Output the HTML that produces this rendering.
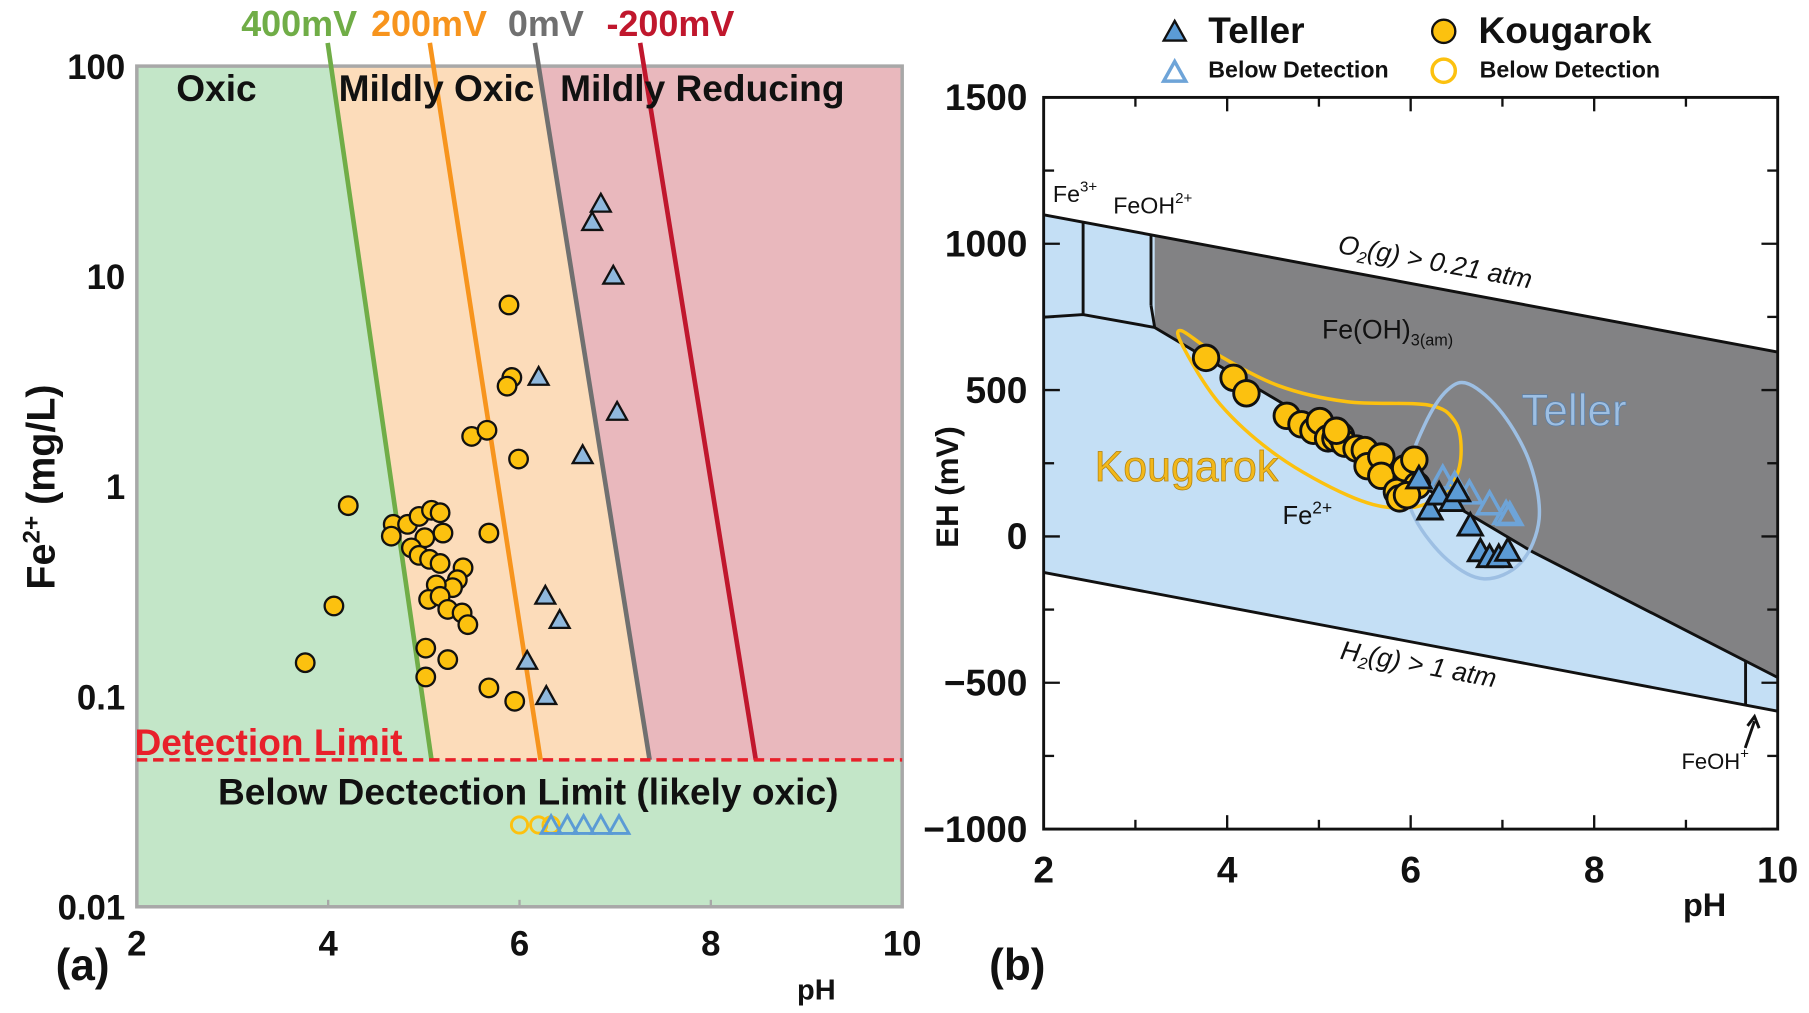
<!DOCTYPE html>
<html><head><meta charset="utf-8"><style>
html,body{margin:0;padding:0;background:#fff;}
svg{display:block;font-family:"Liberation Sans",Arial,sans-serif;}
</style></head><body>
<svg id="fig" width="1809" height="1013" viewBox="0 0 1560 873.6" preserveAspectRatio="none" xmlns="http://www.w3.org/2000/svg">
<g id="pa"></g>
<g id="pb"></g>
</svg>
<script>
// ---------- Panel A data ----------
const aKougarokPH = [3.76,4.06,4.21,5.89,5.92,5.87,5.50,5.66,5.99,5.68,4.68,4.66,4.83,4.95,5.08,5.17,5.20,5.01,4.87,4.95,5.06,5.17,5.41,5.35,5.30,5.13,5.05,5.17,5.25,5.40,5.46,5.02,5.02,5.25,5.68,5.95];
const aKougarokFe = [0.145,0.27,0.81,7.3,3.3,3.0,1.73,1.85,1.35,0.6,0.66,0.58,0.66,0.72,0.77,0.75,0.6,0.57,0.51,0.47,0.45,0.43,0.41,0.36,0.33,0.34,0.29,0.30,0.26,0.25,0.22,0.17,0.124,0.15,0.11,0.095];
const aTellerPH = [6.85,6.76,6.98,6.20,7.02,6.66,6.27,6.42,6.08,6.28];
const aTellerFe = [22,18,10,3.3,2.25,1.4,0.3,0.23,0.147,0.1];
const aBDKougarokPH = [6.0,6.2,6.33];
const aBDTellerPH = [6.33,6.5,6.67,6.85,7.04];
const aBDValue = 0.0245;
const ehLabels = ["400mV","200mV","0mV","-200mV"];
const ehTopPH = [4.03,5.1,6.2,7.3];
const ehBottomPH = [5.08,6.22,7.36,8.47];
const detectionLimit = 0.05;
const aYTicks = [100,10,1,0.1,0.01];
const aYTickLabels = ["100","10","1","0.1","0.01"];
const aXTicks = [2,4,6,8,10];

// ---------- Panel B data ----------
const bKougarokPH = [3.77,4.07,4.21,4.65,4.81,4.94,5.01,5.10,5.18,5.24,5.28,5.41,5.50,5.53,5.68,5.68,5.85,5.88,5.94,6.04,6.07,5.96,5.19];
const bKougarokEh = [610,542,489,412,383,361,394,335,335,344,317,300,295,240,273,207,152,130,233,262,174,141,361];
const bTellerPH = [6.09,6.21,6.31,6.45,6.65,6.76,6.86,6.96,7.06,6.51];
const bTellerEh = [196,90,141,119,35,-53,-73,-73,-51,152];
const bBDTellerPH = [6.35,6.48,6.64,6.86,7.04,7.08];
const bBDTellerEh = [196,174,145,108,75,71];
const o2LinePH = [2,10], o2LineEh = [1099,630];
const h2LinePH = [2,10], h2LineEh = [-123,-597];
const fe2BoundPH = [2,2.43,3.21,7.33,10], fe2BoundEh = [749,758,714,-53,-482];
const kougLoopPH = [3.50,3.87,4.56,5.31,6.19,6.48,6.55,6.48,6.23,5.82,5.31,4.56,3.93,3.52];
const kougLoopEh = [703,626,515,460,449,394,295,196,119,97,141,273,449,648];
const tellLoopPH = [6.64,7.0,7.3,7.4,7.2,6.8,6.4,6.05,5.95,6.15,6.4];
const tellLoopEh = [520,420,250,60,-90,-145,-80,60,200,380,500];
const bYTicks = [1500,1000,500,0,-500,-1000];
const bYTickLabels = ["1500","1000","500","0","\u2212500","\u22121000"];
const bXTicks = [2,4,6,8,10];

const NS="http://www.w3.org/2000/svg";
function mk(parent,tag,attrs,text){const e=document.createElementNS(NS,tag);for(const k in attrs)e.setAttribute(k,attrs[k]);if(text!==undefined)e.textContent=text;parent.appendChild(e);return e;}

// ===== Panel A =====
const A=document.getElementById('pa');
const aL=118,aR=778,aT=57,aB=782;
const ax=p=>aL+(p-2)/8*(aR-aL);
const ay=v=>aT+(2-Math.log10(v))/4*(aB-aT);
const yDet=ay(detectionLimit);
function lineX(i,v){const t=(2-Math.log10(v))/(2-Math.log10(detectionLimit));return ax(ehTopPH[i]+(ehBottomPH[i]-ehTopPH[i])*t);}
let r=mk(A,'rect',{x:aL,y:aT,width:aR-aL,height:aB-aT,fill:'#c3e6c8'});

let p=mk(A,'polygon',{points:`${lineX(0,100)},${aT} ${aR},${aT} ${aR},${yDet} ${lineX(0,detectionLimit)},${yDet}`,fill:'#fcdcba'});

p=mk(A,'polygon',{points:`${lineX(2,100)},${aT} ${aR},${aT} ${aR},${yDet} ${lineX(2,detectionLimit)},${yDet}`,fill:'#e9b8bd'});

r=mk(A,'rect',{x:aL,y:aT,width:aR-aL,height:aB-aT,fill:'none',stroke:'#a8a8a8','stroke-width':3});

const ehColors=['#70ad47','#f7941d','#707070','#c0172d'];
const ehLabelX=[208,320,438,523];
ehLabels.forEach((lab,i)=>{
  const topY=37;const tTop=(2-(2+(aT-topY)/((aB-aT)/4)))/(2-Math.log10(detectionLimit));
  const x0=ax(ehTopPH[i]+(ehBottomPH[i]-ehTopPH[i])*tTop);
  const l=mk(A,'line',{x1:x0,y1:topY,x2:lineX(i,detectionLimit),y2:yDet,stroke:ehColors[i],'stroke-width':4});
  
  const t=mk(A,'text',{x:ehLabelX[i],y:31,fill:ehColors[i],'font-size':31,'font-weight':'bold'},lab);
  
});
let dl=mk(A,'line',{x1:aL,y1:yDet,x2:aR,y2:yDet,stroke:'#e8202a','stroke-width':3,'stroke-dasharray':'9,5'});

[['Oxic',152,'region-label-oxic'],['Mildly Oxic',292,'region-label-mildly-oxic'],['Mildly Reducing',483,'region-label-mildly-reducing']].forEach(a=>{
  const t=mk(A,'text',{x:a[1],y:87,'font-size':32,'font-weight':'bold',fill:'#111'},a[0]);
  
});
let t=mk(A,'text',{x:116,y:651,'font-size':32,'font-weight':'bold',fill:'#e8202a'},'Detection Limit');

t=mk(A,'text',{x:188,y:694,'font-size':32,'font-weight':'bold',fill:'#111'},'Below Dectection Limit (likely oxic)');

aYTicks.forEach((v,i)=>{const e=mk(A,'text',{x:108,y:ay(v)+11,'text-anchor':'end','font-size':30,'font-weight':'bold',fill:'#111'},aYTickLabels[i]);
  });
aXTicks.forEach(v=>{const e=mk(A,'text',{x:ax(v),y:824,'text-anchor':'middle','font-size':30,'font-weight':'bold',fill:'#111'},String(v));
  
  if(v>2&&v<10){const k=mk(A,'line',{x1:ax(v),y1:aB-6,x2:ax(v),y2:aB,stroke:'#a8a8a8','stroke-width':2});}});
t=mk(A,'text',{x:704,y:862,'text-anchor':'middle','font-size':25,'font-weight':'bold',fill:'#111'},'pH');

t=mk(A,'text',{x:48,y:845,'font-size':38,'font-weight':'bold',fill:'#111'},'(a)');

t=mk(A,'text',{transform:'translate(47,420) rotate(-90)','text-anchor':'middle','font-size':34,'font-weight':'bold',fill:'#111'});

mk(t,'tspan',{},'Fe');mk(t,'tspan',{'font-size':21,dy:-13},'2+');mk(t,'tspan',{dy:13},' (mg/L)');
function tri(g,cx,cy,s,fill,stroke,sw){return mk(g,'polygon',{points:`${cx},${cy-s} ${cx+s*0.95},${cy+s*0.7} ${cx-s*0.95},${cy+s*0.7}`,fill:fill,stroke:stroke,'stroke-width':sw});}
aKougarokPH.forEach((ph,i)=>{const c=mk(A,'circle',{cx:ax(ph),cy:ay(aKougarokFe[i]),r:8,fill:'#fcc10f',stroke:'#111','stroke-width':2});
  });
aTellerPH.forEach((ph,i)=>{const c=tri(A,ax(ph),ay(aTellerFe[i]),9,'#8fb8dd','#111',2);
  });
aBDKougarokPH.forEach(ph=>{const c=mk(A,'circle',{cx:ax(ph),cy:ay(aBDValue),r:7,fill:'none',stroke:'#fcc10f','stroke-width':2.5});
  });
aBDTellerPH.forEach(ph=>{const c=tri(A,ax(ph),ay(aBDValue)+1,9,'none','#5b9bd5',2.5);
  });

// ===== Panel B =====
const B=document.getElementById('pb');
const bL=900,bR=1533,bT=84,bB=715;
const bx=p=>bL+(p-2)/8*(bR-bL);
const by=v=>bT+(1500-v)/2500*(bB-bT);
function interp(xs,ys,x){for(let i=0;i<xs.length-1;i++){if(x<=xs[i+1])return ys[i]+(ys[i+1]-ys[i])*(x-xs[i])/(xs[i+1]-xs[i]);}return ys[ys.length-1];}
let pts=`${bx(o2LinePH[0])},${by(o2LineEh[0])} ${bx(o2LinePH[1])},${by(o2LineEh[1])} ${bx(h2LinePH[1])},${by(h2LineEh[1])} ${bx(h2LinePH[0])},${by(h2LineEh[0])}`;
p=mk(B,'polygon',{points:pts,fill:'#c4dff5'});
const feVx=3.21;
let gp=`${bx(feVx)},${by(interp(o2LinePH,o2LineEh,feVx))} ${bx(10)},${by(o2LineEh[1])}`;
for(let i=fe2BoundPH.length-1;i>=0;i--){if(fe2BoundPH[i]>=feVx)gp+=` ${bx(fe2BoundPH[i])},${by(fe2BoundEh[i])}`;}
p=mk(B,'polygon',{points:gp,fill:'#828284'});
function poly(g,xs,ys,attrs){return mk(g,'polyline',Object.assign({points:xs.map((x,i)=>bx(x)+','+by(ys[i])).join(' '),fill:'none'},attrs));}
let l=poly(B,o2LinePH,o2LineEh,{stroke:'#111','stroke-width':2.5});
l=poly(B,h2LinePH,h2LineEh,{stroke:'#111','stroke-width':2.5});
l=poly(B,fe2BoundPH,fe2BoundEh,{stroke:'#111','stroke-width':2.5});
[[2.43,interp(o2LinePH,o2LineEh,2.43),758],[3.17,interp(o2LinePH,o2LineEh,3.17),790],[9.65,interp(h2LinePH,h2LineEh,9.65),interp(fe2BoundPH,fe2BoundEh,9.65)]].forEach(v=>{
  const e=mk(B,'line',{x1:bx(v[0]),y1:by(v[1]),x2:bx(v[0]),y2:by(v[2]),stroke:'#111','stroke-width':2.5});
  });
l=mk(B,'line',{x1:bx(3.17),y1:by(790),x2:bx(3.21),y2:by(714),stroke:'#111','stroke-width':2.5});
function closedSmooth(xs,ys){const P=xs.map((x,i)=>[bx(x),by(ys[i])]);const n=P.length;let d=`M${P[0][0]},${P[0][1]}`;
  for(let i=0;i<n;i++){const p0=P[(i-1+n)%n],p1=P[i],p2=P[(i+1)%n],p3=P[(i+2)%n];
    d+=` C${p1[0]+(p2[0]-p0[0])/6},${p1[1]+(p2[1]-p0[1])/6} ${p2[0]-(p3[0]-p1[0])/6},${p2[1]-(p3[1]-p1[1])/6} ${p2[0]},${p2[1]}`;}return d+'Z';}
l=mk(B,'path',{d:closedSmooth(kougLoopPH,kougLoopEh),fill:'none',stroke:'#fcc10f','stroke-width':3});
l=mk(B,'path',{d:closedSmooth(tellLoopPH,tellLoopEh),fill:'none',stroke:'#9dbfe3','stroke-width':3});
bKougarokPH.forEach((ph,i)=>{const c=mk(B,'circle',{cx:bx(ph),cy:by(bKougarokEh[i]),r:11,fill:'#fcc10f',stroke:'#111','stroke-width':2.5});
  });
bBDTellerPH.forEach((ph,i)=>{const c=tri(B,bx(ph),by(bBDTellerEh[i]),11,'none','#6ea4d8',3);
  });
bTellerPH.forEach((ph,i)=>{const c=tri(B,bx(ph),by(bTellerEh[i]),11,'#5b9bd5','#111',2.5);
  });
r=mk(B,'rect',{x:bL,y:bT,width:bR-bL,height:bB-bT,fill:'none',stroke:'#111','stroke-width':2.5});

for(let v=-1000;v<=1500;v+=250){const big=v%500===0?14:9;
  [[bL,bL+big],[bR-big,bR]].forEach(s=>{const k=mk(B,'line',{x1:s[0],y1:by(v),x2:s[1],y2:by(v),stroke:'#111','stroke-width':2});});}
for(let v=2;v<=10;v+=1){const big=v%2===0?12:8;
  [[bB,bB-big],[bT,bT+big]].forEach(s=>{const k=mk(B,'line',{x1:bx(v),y1:s[0],x2:bx(v),y2:s[1],stroke:'#111','stroke-width':2});});}
bYTicks.forEach((v,i)=>{const e=mk(B,'text',{x:886,y:by(v)+11,'text-anchor':'end','font-size':32,'font-weight':'bold',fill:'#111'},bYTickLabels[i]);
  });
bXTicks.forEach(v=>{const e=mk(B,'text',{x:bx(v),y:761,'text-anchor':'middle','font-size':32,'font-weight':'bold',fill:'#111'},String(v));
  });
t=mk(B,'text',{x:1470,y:790,'text-anchor':'middle','font-size':28,'font-weight':'bold',fill:'#111'},'pH');
t=mk(B,'text',{transform:'translate(826,420) rotate(-90)','text-anchor':'middle','font-size':27,'font-weight':'bold',fill:'#111'},'EH (mV)');
t=mk(B,'text',{x:853,y:845,'font-size':38,'font-weight':'bold',fill:'#111'},'(b)');
function label(x,y,parts,size,name,extra){const e=mk(B,'text',Object.assign({x:x,y:y,'font-size':size,fill:'#111'},extra||{}));
  parts.forEach(pp=>mk(e,'tspan',pp[1]||{},pp[0]));return e;}
label(908,174,[['Fe'],['3+',{'font-size':13,dy:-9}]],20,'species-label-fe3');
label(960,184,[['FeOH'],['2+',{'font-size':13,dy:-9}]],20,'species-label-feoh2');
label(1140,292,[['Fe(OH)'],['3(am)',{'font-size':14,dy:6}]],23,'species-label-feoh3');
label(1106,452,[['Fe'],['2+',{'font-size':15,dy:-9}]],22,'species-label-fe2');
label(1450,663,[['FeOH'],['+',{'font-size':13,dy:-9}]],19,'species-label-feoh-plus');
label(1153,218,[['O'],['2',{'font-size':14,dy:5}],['(g) > 0.21 atm',{dy:-5}]],23,'o2-line-label',{transform:'rotate(10.5 1153 218)','font-style':'italic'});
label(1155,568,[['H'],['2',{'font-size':14,dy:5}],['(g) > 1 atm',{dy:-5}]],23,'h2-line-label',{transform:'rotate(10.5 1155 568)','font-style':'italic'});
t=mk(B,'text',{x:944,y:415,'font-size':37,fill:'#f2b81a',stroke:'#b08010','stroke-width':0.6},'Kougarok');
t=mk(B,'text',{x:1312,y:367,'font-size':38,fill:'#9dbfe3',stroke:'#5a7fa8','stroke-width':0.6},'Teller');
l=mk(B,'path',{d:'M1505,645 L1513,622 M1507,626 L1513,618 L1517,628',fill:'none',stroke:'#111','stroke-width':2.5});
// legend
let lg=tri(B,1013,28,10,'#5b9bd5','#111',2);
t=mk(B,'text',{x:1042,y:37,'font-size':32,'font-weight':'bold',fill:'#111'},'Teller');
lg=tri(B,1013,63,10,'none','#6ea4d8',3);
t=mk(B,'text',{x:1042,y:67,'font-size':20,'font-weight':'bold',fill:'#111'},'Below Detection');
lg=mk(B,'circle',{cx:1245,cy:27,r:10,fill:'#fcc10f',stroke:'#111','stroke-width':2});
t=mk(B,'text',{x:1275,y:37,'font-size':32,'font-weight':'bold',fill:'#111'},'Kougarok');
lg=mk(B,'circle',{cx:1245,cy:61,r:10,fill:'none',stroke:'#fcc10f','stroke-width':3});
t=mk(B,'text',{x:1276,y:67,'font-size':20,'font-weight':'bold',fill:'#111'},'Below Detection');
</script>
</body></html>
